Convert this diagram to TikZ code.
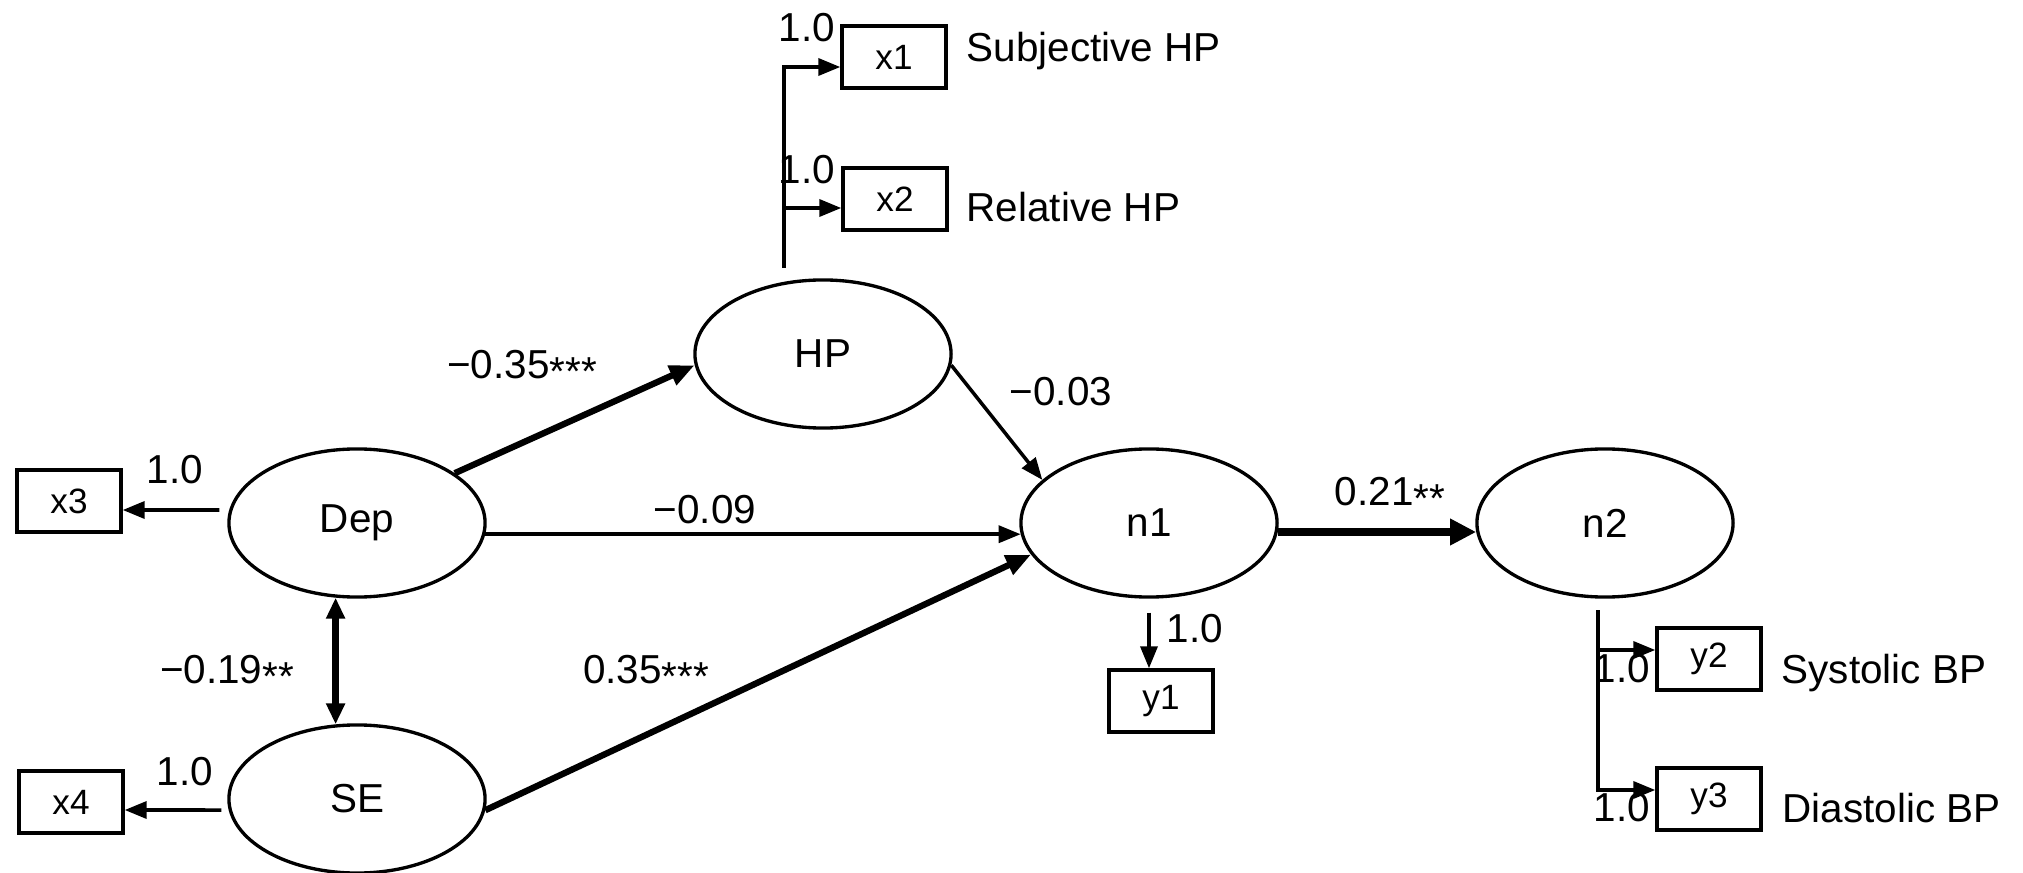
\documentclass[tikz,border=0pt]{standalone}
\usepackage{fontspec}
\setmainfont{Liberation Sans}
\usetikzlibrary{arrows.meta,shapes.geometric}
\newcommand{\stt}{\raisebox{-0.18em}{*}}
\begin{document}
\begin{tikzpicture}[x=0.01cm,y=-0.01cm,
  lat/.style={draw, line width=0.95pt, ellipse, minimum width=2.56cm, minimum height=1.48cm, inner sep=0pt, font=\fontsize{11.5}{13}\selectfont},
  obs/.style={draw, line width=0.95pt, rectangle, minimum width=1.04cm, minimum height=0.62cm, inner sep=0pt, font=\fontsize{10}{12}\selectfont},
  lbl/.style={inner sep=0pt, font=\fontsize{11.5}{13}\selectfont},
  thinarr/.style={line width=1pt, -{Triangle[length=0.22cm,width=0.17cm]}},
  thickarr/.style={line width=1.8pt, -{Triangle[length=0.25cm,width=0.2cm]}},
  heavyarr/.style={line width=2.5pt, -{Triangle[length=0.26cm,width=0.25cm]}},
  dblarr/.style={line width=1.9pt, {Triangle[length=0.21cm,width=0.18cm]}-{Triangle[length=0.21cm,width=0.18cm]}},
]
\useasboundingbox (0,0) rectangle (2023,873);

% latent variables
\node[lat] (Dep) at (357,523) {Dep};
\node[lat] (SE)  at (357,799) {SE};
\node[lat] (HP)  at (823,354) {HP};
\node[lat] (n1)  at (1149,523) {n1};
\node[lat] (n2)  at (1605,523) {n2};

% observed variables
\node[obs] (x1) at (894,57) {x1};
\node[obs] (x2) at (895,199) {x2};
\node[obs] (x3) at (69,501) {x3};
\node[obs] (x4) at (71,802) {x4};
\node[obs] (y1) at (1161,701) {y1};
\node[obs] (y2) at (1709,659) {y2};
\node[obs] (y3) at (1709,799) {y3};

% structural paths
\draw[thickarr] (Dep.27) -- (HP.185);
\draw[thinarr] (Dep.-5) -- (n1.185);
\draw[thinarr] (HP.-5) -- (n1.158);
\draw[thickarr] (SE.-5) -- (n1.195);
\draw[heavyarr] (n1.-4) -- (n2.184);
\draw[dblarr] (Dep.254) -- (SE.106);

% measurement paths
\draw[thinarr] ([xshift=-0.08cm,yshift=0.13cm]Dep.west) -- ([yshift=-0.09cm]x3.east);
\draw[thinarr] ([xshift=-0.06cm,yshift=-0.11cm]SE.west) -- ([yshift=-0.08cm]x4.east);

\coordinate (hps) at (784,268);
\coordinate (x1in) at ([yshift=-0.1cm]x1.west);
\coordinate (x2in) at ([yshift=-0.09cm]x2.west);
\draw[thinarr] (hps) |- (x1in);
\draw[thinarr] (hps |- x2in) -- (x2in);

\draw[thinarr] ([yshift=-0.14cm]n1.south) -- (n1.south |- y1.north);

\coordinate (n2s) at (1598,610);
\coordinate (y2in) at ([yshift=0.09cm]y2.west);
\coordinate (y3in) at ([yshift=0.09cm]y3.west);
\draw[thinarr] (n2s) |- (y3in);
\draw[thinarr] (n2s |- y2in) -- (y2in);

% coefficient labels
\node[lbl] (lx3) at (175,470) {1.0};
\node[lbl] (lx4) at (185,772) {1.0};
\node[lbl] (lcor) at (227,673) {−0.19\stt\stt};
\node[lbl] (lhp) at (522,368) {−0.35\stt\stt\stt};
\node[lbl] (ldep) at (705,510) {−0.09};
\node[lbl] (lse) at (646,673) {0.35\stt\stt\stt};
\node[lbl] (lhpn) at (1061,392) {−0.03};
\node[lbl] (ln12) at (1390,495) {0.21\stt\stt};
\node[lbl] (ly1) at (1195,629) {1.0};
\node[lbl] (lx1) at (807,28) {1.0};
\node[lbl] (lx2) at (807,170) {1.0};
\node[lbl] (ly2) at (1622,669) {1.0};
\node[lbl] (ly3) at (1622,808) {1.0};

% indicator names
\node[lbl, anchor=base west] (tx1) at (966,62) {Subjective HP};
\node[lbl, anchor=base west] (tx2) at (966,222) {Relative HP};
\node[lbl, anchor=base west] (ty2) at (1781,683) {Systolic BP};
\node[lbl, anchor=base west] (ty3) at (1782,822) {Diastolic BP};
\end{tikzpicture}
\end{document}
